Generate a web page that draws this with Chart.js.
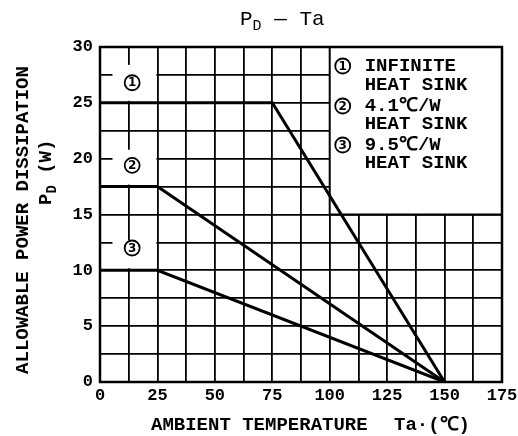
<!DOCTYPE html>
<html>
<head>
<meta charset="utf-8">
<script src="https://cdn.jsdelivr.net/npm/chart.js@4.4.1/dist/chart.umd.min.js"></script>
<style>
  html, body { margin: 0; padding: 0; background: #fff; }
  #wrap { width: 518px; height: 436px; position: relative; }
</style>
</head>
<body>
<div id="wrap"><canvas id="c" width="518" height="436"></canvas></div>
<script>
// ---- data ----
const curve1X = [0, 75, 150];      // infinite heat sink
const curve1Y = [25, 25, 0];
const curve2X = [0, 25, 150];      // 4.1 C/W heat sink
const curve2Y = [17.5, 17.5, 0];
const curve3X = [0, 25, 150];      // 9.5 C/W heat sink
const curve3Y = [10, 10, 0];
const xTickLabels = [0, 25, 50, 75, 100, 125, 150, 175];
const yTickLabels = [0, 5, 10, 15, 20, 25, 30];
const curveMarks = ['1', '2', '3'];
const legendLines = [
  ['1', 'INFINITE'], ['', 'HEAT SINK'],
  ['2', '4.1\u2103/W'], ['', 'HEAT SINK'],
  ['3', '9.5\u2103/W'], ['', 'HEAT SINK']
];

const FONT = '"Liberation Mono", "DejaVu Sans Mono", monospace';
const toPts = (xs, ys) => xs.map((x, i) => ({ x: x, y: ys[i] }));

const lineDs = (xs, ys) => ({
  data: toPts(xs, ys),
  borderColor: '#000',
  borderWidth: 3,
  pointRadius: 0,
  tension: 0,
  fill: false
});

function circled(ctx, txt, cx, cy) {
  ctx.beginPath();
  ctx.arc(cx, cy, 7.5, 0, Math.PI * 2);
  ctx.lineWidth = 1.8;
  ctx.strokeStyle = '#000';
  ctx.stroke();
  ctx.font = 'bold 12px "DejaVu Sans", sans-serif';
  ctx.textAlign = 'center';
  ctx.textBaseline = 'middle';
  ctx.fillText(txt, cx, cy + 0.5);
}

const decor = {
  id: 'decor',
  beforeDatasetsDraw(chart) {
    const { ctx, scales: { x, y } } = chart;
    ctx.save();
    ctx.fillStyle = '#fff';
    // white patches behind the curve labels (grid gaps)
    const patches = [[5, 25, 25, 28.4], [5, 25, 17.5, 20.8], [5, 25, 10, 12.7]];
    patches.forEach(([x0, x1, y0, y1]) => {
      const px0 = x.getPixelForValue(x0) + 1, px1 = x.getPixelForValue(x1) - 1;
      const py0 = y.getPixelForValue(y1), py1 = y.getPixelForValue(y0) - 2;
      ctx.fillRect(px0, py0, px1 - px0, py1 - py0);
    });
    // legend box
    const bx0 = x.getPixelForValue(100), bx1 = x.getPixelForValue(175);
    const by0 = y.getPixelForValue(30), by1 = y.getPixelForValue(15);
    ctx.fillRect(bx0, by0, bx1 - bx0, by1 - by0);
    ctx.strokeStyle = '#000';
    ctx.lineWidth = 2;
    ctx.strokeRect(bx0, by0, bx1 - bx0, by1 - by0);
    ctx.restore();
  },
  afterDatasetsDraw(chart) {
    const { ctx, chartArea: a, scales: { x, y } } = chart;
    ctx.save();
    ctx.fillStyle = '#000';
    // curve labels
    const markPos = [[14, 26.8], [14, 19.4], [14, 12.0]];
    markPos.forEach((p, i) => circled(ctx, curveMarks[i], x.getPixelForValue(p[0]), y.getPixelForValue(p[1])));
    // legend
    const lx = x.getPixelForValue(100);
    const rows = [66, 85, 106, 124, 145, 163];
    legendLines.forEach((ln, i) => {
      if (ln[0]) circled(ctx, ln[0], lx + 13, rows[i]);
      ctx.font = 'bold 19px ' + FONT;
      ctx.textAlign = 'left';
      ctx.textBaseline = 'middle';
      ctx.fillText(ln[1], lx + 35, rows[i]);
    });
    // frame
    ctx.strokeStyle = '#000';
    ctx.lineWidth = 2.5;
    ctx.strokeRect(a.left, a.top, a.right - a.left, a.bottom - a.top);
    ctx.restore();
  },
  afterDraw(chart) {
    const { ctx } = chart;
    ctx.save();
    ctx.fillStyle = '#000';
    ctx.textBaseline = 'alphabetic';
    // title  P_D - Ta
    ctx.font = '21px ' + FONT;
    ctx.textAlign = 'left';
    let tx = 240;
    ctx.fillText('P', tx, 25);
    tx += ctx.measureText('P').width;
    ctx.font = '15px ' + FONT;
    ctx.fillText('D', tx, 30);
    tx += ctx.measureText('D').width;
    ctx.font = '21px ' + FONT;
    ctx.fillText(' \u2014 Ta', tx, 25);
    // x axis title
    ctx.font = 'bold 19px ' + FONT;
    ctx.fillText('AMBIENT TEMPERATURE', 151, 430);
    ctx.fillText('Ta\u00b7(\u2103)', 394, 430);
    // y axis title
    ctx.save();
    ctx.translate(28, 220);
    ctx.rotate(-Math.PI / 2);
    ctx.textAlign = 'center';
    ctx.fillText('ALLOWABLE POWER DISSIPATION', 0, 0);
    ctx.restore();
    ctx.save();
    ctx.translate(51, 205);
    ctx.rotate(-Math.PI / 2);
    ctx.textAlign = 'left';
    let sx = 0;
    ctx.font = 'bold 19px ' + FONT;
    ctx.fillText('P', sx, 0);
    sx += ctx.measureText('P').width;
    ctx.font = 'bold 14px ' + FONT;
    ctx.fillText('D', sx, 5);
    sx += ctx.measureText('D').width;
    ctx.font = 'bold 19px ' + FONT;
    ctx.fillText(' (W)', sx, 0);
    ctx.restore();
    ctx.restore();
  }
};

new Chart(document.getElementById('c'), {
  type: 'line',
  data: {
    datasets: [lineDs(curve1X, curve1Y), lineDs(curve2X, curve2Y), lineDs(curve3X, curve3Y)]
  },
  options: {
    responsive: false,
    animation: false,
    events: [],
    layout: { padding: { left: 0, right: 16, top: 47, bottom: 0 } },
    plugins: { legend: { display: false }, title: { display: false }, tooltip: { enabled: false } },
    scales: {
      x: {
        type: 'linear',
        min: 0, max: 175,
        afterFit(s) { s.height = 54; s.paddingLeft = 0; s.paddingRight = 0; },
        afterBuildTicks(s) {
          const t = [];
          for (let v = 0; v <= 175; v += 12.5) t.push({ value: v });
          s.ticks = t;
        },
        ticks: {
          autoSkip: false, maxRotation: 0, padding: 4,
          color: '#000',
          font: { family: FONT, size: 17, weight: 'bold' },
          callback: (v) => xTickLabels.includes(v) ? String(v) : ''
        },
        grid: { color: '#000', lineWidth: 1.8, drawTicks: false },
        border: { display: false }
      },
      y: {
        type: 'linear',
        min: 0, max: 30,
        afterFit(s) { s.width = 100; s.paddingTop = 0; s.paddingBottom = 0; },
        afterBuildTicks(s) {
          const t = [];
          for (let v = 0; v <= 30; v += 2.5) t.push({ value: v });
          s.ticks = t;
        },
        ticks: {
          autoSkip: false, padding: 7,
          color: '#000',
          font: { family: FONT, size: 17, weight: 'bold' },
          callback: (v) => yTickLabels.includes(v) ? String(v) : ''
        },
        grid: { color: '#000', lineWidth: 1.8, drawTicks: false },
        border: { display: false }
      }
    }
  },
  plugins: [decor]
});
</script>
</body>
</html>
